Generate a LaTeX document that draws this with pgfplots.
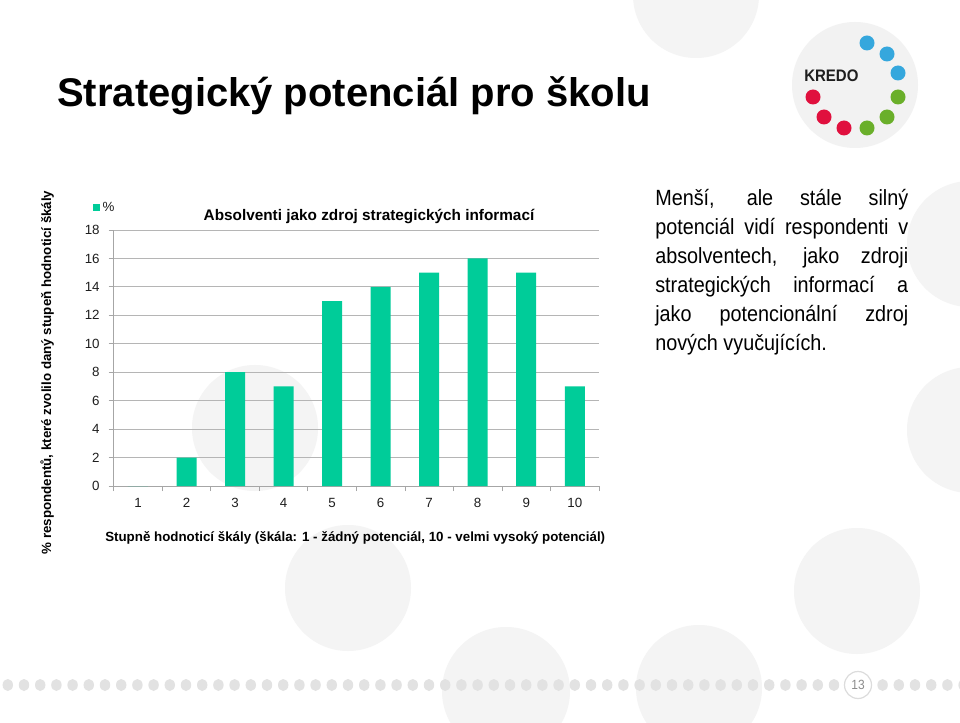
\documentclass[border=0pt]{standalone}
\usepackage{fontspec}
\setmainfont{Liberation Sans}
\newfontfamily\narrowfont{Liberation Sans}[FakeStretch=0.9]
\usepackage{pgfplots}
\pgfplotsset{compat=1.18}
\definecolor{bgc}{HTML}{F4F4F4}
\definecolor{logoc}{HTML}{F2F2F2}
\definecolor{barc}{HTML}{00CC99}
\definecolor{gridc}{HTML}{B5B5B5}
\definecolor{axc}{HTML}{A6A6A6}
\definecolor{tickc}{HTML}{1E1E1E}
\definecolor{dotc}{HTML}{E2E2E2}
\definecolor{pagec}{HTML}{DCDCDC}
\definecolor{numc}{HTML}{8C8C8C}
\definecolor{kblue}{HTML}{35A7DD}
\definecolor{kgreen}{HTML}{6AAF2A}
\definecolor{kred}{HTML}{E0103E}
\definecolor{kredoc}{HTML}{1E1E1E}
\begin{document}
\begin{tikzpicture}[x=0.75pt,y=0.75pt]
\useasboundingbox (0,0) rectangle (960,722);
\begin{scope}
\clip (0,0) rectangle (960,722);
\fill[white] (0,0) rectangle (960,722);
\fill[bgc] (696,727) circle (63);
\fill[logoc] (855,637) circle (63);
\fill[bgc] (970,478) circle (63);
\fill[bgc] (970,292) circle (63);
\fill[bgc] (255,294) circle (63);
\fill[bgc] (348,134) circle (63);
\fill[bgc] (506,31) circle (64);
\fill[bgc] (699,34) circle (63);
\fill[bgc] (857,131) circle (63);
% dotted footer
\foreach \k in {0,...,51,54,55,...,59} {
  \fill[dotc] ({7.8+16.2*\k},37) ellipse (5.2 and 6);
}
\fill[white] (858,37) circle (13.5);
\draw[pagec, line width=0.9pt] (858,37) circle (13.5);
\node[text=numc, inner sep=0pt] at (858,37) {\narrowfont\fontsize{10}{12}\selectfont 13};
% logo
\fill[kblue] (867,679) circle (7.5);
\fill[kblue] (887,668) circle (7.5);
\fill[kblue] (898,649) circle (7.5);
\fill[kgreen] (898,625) circle (7.5);
\fill[kgreen] (887,605) circle (7.5);
\fill[kgreen] (867,594) circle (7.5);
\fill[kred] (844,594) circle (7.5);
\fill[kred] (824,605) circle (7.5);
\fill[kred] (813,625) circle (7.5);
\node[anchor=base west, inner sep=0pt, text=kredoc] at (804,640) {\narrowfont\bfseries\fontsize{12.5}{14}\selectfont KREDO};
\end{scope}

\begin{axis}[
  at={(85.275pt,177pt)}, anchor=south west,
  scale only axis, width=364pt, height=192pt,
  xmin=0.5, xmax=10.5, ymin=0, ymax=18,
  ybar, bar width=15pt,
  xtick={0.5,1.5,...,10.5},
  x tick label as interval,
  xticklabels={1,2,3,4,5,6,7,8,9,10},
  ytick={0,2,...,18},
  ymajorgrids,
  major grid style={draw=gridc, line width=0.6pt},
  axis lines*=left,
  axis line style={draw=axc, line width=0.6pt},
  tick style={draw=axc, line width=0.6pt},
  tick align=outside,
  major tick length=3.75pt,
  ticklabel style={font=\fontsize{10}{12}\selectfont, text=tickc},
  yticklabel style={xshift=-3.3pt},
  xticklabel style={yshift=-1.8pt},
  /pgf/number format/assume math mode=true,
  legend style={at={(axis description cs:-0.0427,1.088)}, anchor=west,
    draw=none, fill=none, inner sep=0pt, outer sep=0pt,
    font=\fontsize{10}{12}\selectfont, text=tickc},
  clip=false,
]
\addplot[fill=barc, draw=none,
  legend image code/.code={\fill[barc] (0pt,-2.6pt) rectangle (5.25pt,2.6pt);}]
  coordinates {(1,0) (2,2) (3,8) (4,7) (5,13) (6,14) (7,15) (8,16) (9,15) (10,7)};
\addlegendentry{\%}
\end{axis}

% titles and labels
\node[anchor=base west, inner sep=0pt] at (57,615) {\bfseries\fontsize{30}{36}\selectfont Strategický potenciál pro školu};
\node[anchor=base, inner sep=0pt] at (369,501.5) {\bfseries\fontsize{11.5}{14}\selectfont Absolventi jako zdroj strategických informací};
\node[rotate=90, anchor=base, inner sep=0pt] at (51,349.5) {\bfseries\fontsize{10}{12}\selectfont \% respondentů, které zvolilo daný stupeň hodnoticí škály};
\node[anchor=base west, inner sep=0pt] at (105,181) {\bfseries\fontsize{10}{12}\selectfont Stupně hodnoticí škály (škála: 1 - žádný potenciál, 10 - velmi vysoký potenciál)};

% right text
\begin{scope}[every node/.style={anchor=base west, inner sep=0pt, font=\narrowfont\fontsize{16.5}{20}\selectfont}]
\node at (655,516) {\makebox[189.75pt][s]{Menší, ale stále silný}};
\node at (655,487) {\makebox[189.75pt][s]{potenciál vidí respondenti v}};
\node at (655,458) {\makebox[189.75pt][s]{absolventech, jako zdroji}};
\node at (655,429) {\makebox[189.75pt][s]{strategických informací a}};
\node at (655,400) {\makebox[189.75pt][s]{jako potencionální zdroj}};
\node at (655,371) {nových vyučujících.};
\end{scope}
\end{tikzpicture}
\end{document}
